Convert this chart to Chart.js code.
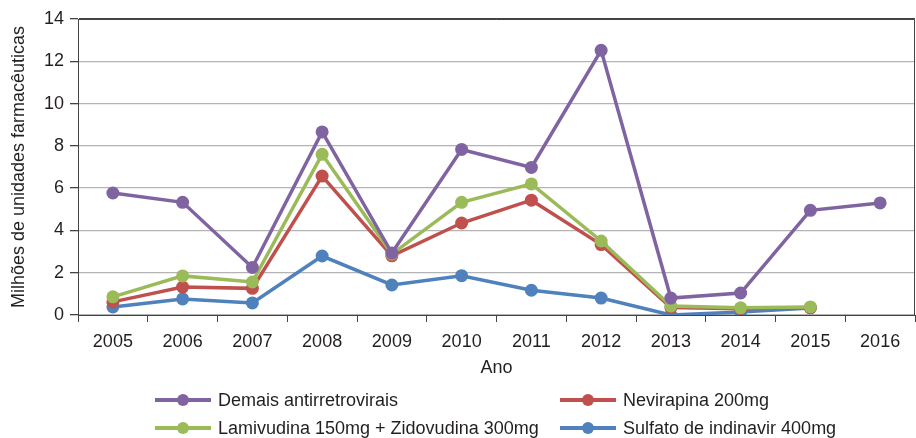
<!DOCTYPE html>
<html>
<head>
<meta charset="utf-8">
<script src="https://cdn.jsdelivr.net/npm/chart.js@4"></script>
<style>
  html, body { margin: 0; padding: 0; background: #fff; }
  #wrap { position: relative; width: 916px; height: 438px; }
  #legend { position: absolute; left: 0; top: 0; width: 916px; height: 438px; pointer-events: none;
            font-family: "Liberation Sans", Arial, sans-serif; font-size: 18px; color: #231f20; }
  .item { position: absolute; height: 24px; line-height: 24px; white-space: nowrap; }
  .line { position: absolute; top: 10px; height: 4px; width: 56px; left: 0; }
  .dot { position: absolute; top: 6px; left: 22px; width: 12px; height: 12px; border-radius: 50%; }
  .txt { position: absolute; left: 63px; top: 0; }
</style>
</head>
<body>
<div id="wrap">
  <canvas id="myChart" width="916" height="438"></canvas>
  <div id="legend"></div>
</div>
<script>
const years = ['2005', '2006', '2007', '2008', '2009', '2010', '2011', '2012', '2013', '2014', '2015', '2016'];
const demais = [5.77, 5.33, 2.25, 8.66, 2.93, 7.83, 6.98, 12.52, 0.8, 1.04, 4.95, 5.3];
const nevirapina = [0.62, 1.32, 1.26, 6.57, 2.8, 4.35, 5.43, 3.33, 0.35, 0.3, 0.35, null];
const lamivudina = [0.86, 1.85, 1.56, 7.6, 2.88, 5.33, 6.2, 3.5, 0.42, 0.34, 0.38, null];
const sulfato = [0.38, 0.76, 0.57, 2.79, 1.42, 1.86, 1.17, 0.8, 0.0, 0.14, 0.33, null];
const yTicks = [0, 2, 4, 6, 8, 10, 12, 14];

const FONT = '"Liberation Sans", Arial, sans-serif';

function ds(label, data, color, order) {
  return {
    label: label,
    data: data,
    borderColor: color,
    backgroundColor: color,
    pointBackgroundColor: color,
    pointBorderWidth: 0,
    pointRadius: 6.5,
    borderWidth: 3.5,
    order: order,
    spanGaps: false
  };
}

const series = [
  ds('Demais antirretrovirais', demais, '#8064A2', 0),
  ds('Nevirapina 200mg', nevirapina, '#C0504D', 2),
  ds('Lamivudina 150mg + Zidovudina 300mg', lamivudina, '#9BBB59', 1),
  ds('Sulfato de indinavir 400mg', sulfato, '#4F81BD', 3)
];

// frame on top and right of the plot
const frame = {
  id: 'frame',
  beforeDatasetsDraw(chart) {
    const a = chart.chartArea, c = chart.ctx;
    c.save();
    c.strokeStyle = '#444';
    c.lineWidth = 1;
    c.beginPath();
    c.moveTo(a.left, a.top + 0.5);
    c.lineTo(a.right - 0.5, a.top + 0.5);
    c.lineTo(a.right - 0.5, a.bottom);
    c.stroke();
    c.restore();
  }
};

const ctx = document.getElementById('myChart').getContext('2d');
new Chart(ctx, {
  type: 'line',
  data: { labels: years, datasets: series },
  options: {
    responsive: false,
    animation: false,
    layout: { autoPadding: false, padding: { top: 19, right: 1, bottom: 58, left: 0 } },
    plugins: {
      legend: { display: false },
      tooltip: { enabled: false }
    },
    scales: {
      x: {
        offset: true,
        afterFit(s) { s.height = 65; s.paddingLeft = 0; s.paddingRight = 0; },
        grid: { offset: true, drawOnChartArea: false, tickLength: 7, color: '#444' },
        border: { color: '#444' },
        ticks: { color: '#231f20', font: { family: FONT, size: 18 }, padding: 9 },
        title: { display: true, text: 'Ano', color: '#231f20', font: { family: FONT, size: 18 }, padding: { top: 0, bottom: 1 } }
      },
      y: {
        min: 0,
        max: 14,
        afterFit(s) { s.width = 78; s.paddingTop = 0; s.paddingBottom = 0; },
        afterBuildTicks(s) { s.ticks = yTicks.map(v => ({ value: v })); },
        grid: {
          color: (c) => c.tick && c.tick.value === 14 ? '#444' : '#b4b4b4',
          tickColor: '#444',
          tickLength: 8,
          lineWidth: 1.3
        },
        border: { color: '#444' },
        ticks: { color: '#231f20', font: { family: FONT, size: 18 }, padding: 6 },
        title: { display: true, text: 'Milhões de unidades farmacêuticas', color: '#231f20', font: { family: FONT, size: 18 }, padding: { top: 8, bottom: 0 } }
      }
    }
  },
  plugins: [frame]
});

// legend in two columns, same order as the original
const legendPos = [
  { x: 155, y: 388 }, { x: 560, y: 388 },
  { x: 155, y: 416 }, { x: 560, y: 416 }
];
const legendOrder = [0, 1, 2, 3];
const legend = document.getElementById('legend');
legendOrder.forEach((idx, k) => {
  const s = series[idx];
  const p = legendPos[k];
  const el = document.createElement('div');
  el.className = 'item';
  el.style.left = p.x + 'px';
  el.style.top = p.y + 'px';
  el.innerHTML = '<div class="line" style="background:' + s.borderColor + '"></div>' +
    '<div class="dot" style="background:' + s.borderColor + '"></div>' +
    '<span class="txt">' + s.label + '</span>';
  legend.appendChild(el);
});
</script>
</body>
</html>
